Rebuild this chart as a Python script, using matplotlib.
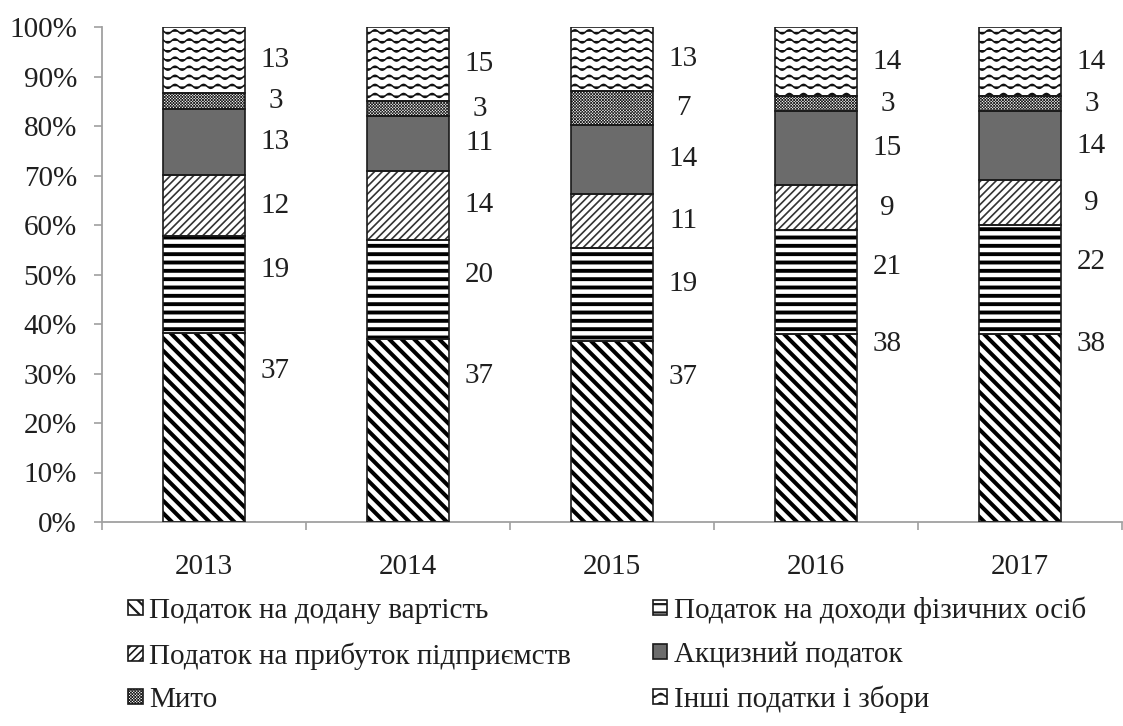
import warnings
warnings.filterwarnings('ignore')
import numpy as np
import matplotlib
matplotlib.use('Agg')
import matplotlib.pyplot as plt
from matplotlib import hatch as mhatch
from matplotlib.path import Path
from matplotlib.patches import Patch

# ---------------- data ----------------
years = ['2013', '2014', '2015', '2016', '2017']
series_names = ['Податок на додану вартість',
                'Податок на доходи фізичних осіб',
                'Податок на прибуток підприємств',
                'Акцизний податок',
                'Мито',
                'Інші податки і збори']
vat = [37, 37, 37, 38, 38]
pdfo = [19, 20, 19, 21, 22]
profit = [12, 14, 11, 9, 9]
excise = [13, 11, 14, 15, 14]
duty = [3, 3, 7, 3, 3]
other = [13, 15, 13, 14, 14]
ytick_values = list(range(0, 101, 10))

# label vertical shifts (percentage points) relative to segment centre
label_shift = {0: [11.5, 11, 11, 17, 17], 1: [3, 3, 2, 3, 3.5]}


# ---------------- custom hatch patterns ----------------
HATCH_SPEC = {'a': ('se', 8), 'b': ('ne', 13), 'c': ('h', 12),
              'w': ('wave', 11), 'd': ('x', 34)}


def _hatch_lines(kind, n):
    lines = []
    if kind in ('ne', 'x'):
        for k in range(-n, n + 1):
            c = k / n
            lines.append(np.array([[0.0, c], [1.0, 1.0 + c]]))
    if kind in ('se', 'x'):
        for k in range(0, 2 * n + 1):
            c = k / n
            lines.append(np.array([[0.0, c], [1.0, c - 1.0]]))
    if kind == 'h':
        for i in range(n):
            y0 = (i + 0.5) / n
            lines.append(np.array([[0.0, y0], [1.0, y0]]))
    if kind == 'wave':
        periods, amp = 7, 0.02
        xs = np.linspace(0, 1, periods * 12 + 1)
        for i in range(n):
            y0 = (i + 0.5) / n
            lines.append(np.column_stack([xs, y0 + amp * np.sin(2 * np.pi * periods * xs)]))
    return lines


class CustomHatch(mhatch.HatchPatternBase):
    def __init__(self, hatch, density):
        self.lines = []
        for ch in set(hatch):
            if ch in HATCH_SPEC:
                self.lines += _hatch_lines(*HATCH_SPEC[ch])
        self.num_vertices = sum(len(p) for p in self.lines)

    def set_vertices_and_codes(self, vertices, codes):
        cur = 0
        for p in self.lines:
            n = len(p)
            vertices[cur:cur + n] = p
            codes[cur] = Path.MOVETO
            codes[cur + 1:cur + n] = Path.LINETO
            cur += n


mhatch._hatch_types.append(CustomHatch)


def set_hlw(p, lw):
    if hasattr(p, 'set_hatch_linewidth'):
        p.set_hatch_linewidth(lw)
    orig = p.draw

    def draw(renderer, _orig=orig, _lw=lw):
        with plt.rc_context({'hatch.linewidth': _lw}):
            _orig(renderer)
    p.draw = draw


styles = [
    dict(fc='white', hatch='a', hc='black', hlw=2.9),
    dict(fc='white', hatch='c', hc='black', hlw=2.8),
    dict(fc='white', hatch='b', hc='#333333', hlw=1.2),
    dict(fc='#6b6b6b', hatch=None, hc='#6b6b6b', hlw=1.0),
    dict(fc='white', hatch='d', hc='#222222', hlw=0.55),
    dict(fc='white', hatch='w', hc='#111111', hlw=1.1),
]

plt.rcParams['font.family'] = ['Liberation Serif', 'DejaVu Serif']
FS = 21
TXT = '#1f1f1f'
AXC = '#a0a0a0'

fig = plt.figure(figsize=(11.23, 7.26), dpi=100)
ax = fig.add_axes([102 / 1123, 1 - 522 / 726, 1020 / 1123, 495 / 726])

data = np.array([vat, pdfo, profit, excise, duty, other], dtype=float)
pct = data / data.sum(axis=0) * 100
x = np.arange(len(years))
W = 0.4
bottom = np.zeros(len(years))
for s in range(len(series_names)):
    st = styles[s]
    bars = ax.bar(x, pct[s], bottom=bottom, width=W, color=st['fc'],
                  edgecolor=st['hc'], linewidth=0, hatch=st['hatch'], zorder=2)
    for b in bars:
        set_hlw(b, st['hlw'])
    ax.bar(x, pct[s], bottom=bottom, width=W, fill=False,
           edgecolor='#1a1a1a', linewidth=1.2, zorder=3)
    for i in range(len(years)):
        yc = bottom[i] + pct[s][i] / 2 + label_shift.get(s, [0] * 5)[i]
        ax.text(x[i] + W / 2 + 0.15, yc, f'{int(data[s][i])}', ha='center',
                va='center', fontsize=FS, color=TXT)
    bottom += pct[s]

ax.set_xlim(-0.5, len(years) - 0.5)
ax.set_ylim(0, 100)
ax.set_yticks(ytick_values)
ax.set_yticklabels([f'{v}%' for v in ytick_values])
ax.set_xticks(np.arange(-0.5, len(years), 1.0))
ax.set_xticklabels([])
ax.set_xticks(x, minor=True)
ax.set_xticklabels(years, minor=True)
ax.tick_params(axis='x', which='major', length=6, width=1.2, color=AXC, direction='out')
ax.tick_params(axis='x', which='minor', length=0, pad=23, labelsize=FS, labelcolor=TXT)
ax.tick_params(axis='y', length=6, width=1.2, color=AXC, direction='out', pad=12,
               labelsize=FS, labelcolor=TXT)
for sp in ['top', 'right']:
    ax.spines[sp].set_visible(False)
for sp in ['left', 'bottom']:
    ax.spines[sp].set_color(AXC)
    ax.spines[sp].set_linewidth(1.3)

handles = [Patch(facecolor=st['fc'], edgecolor=st['hc'], hatch=st['hatch'], linewidth=0.8)
           for st in styles]
order = [0, 2, 4, 1, 3, 5]
leg = fig.legend([handles[i] for i in order], [series_names[i] for i in order],
                 ncol=2, loc='upper left', bbox_to_anchor=(0.114, 0.178),
                 frameon=False, fontsize=FS, handlelength=0.5, handleheight=0.42,
                 handletextpad=0.22, columnspacing=2.8, labelspacing=0.61,
                 borderpad=0, borderaxespad=0)
for t in leg.get_texts():
    t.set_color(TXT)
for p, i in zip(leg.get_patches(), order):
    set_hlw(p, min(styles[i]['hlw'], 1.6))
    p.set_edgecolor('#1a1a1a')
    p.set_linewidth(1.2)

fig.savefig('out.png', dpi=100)
